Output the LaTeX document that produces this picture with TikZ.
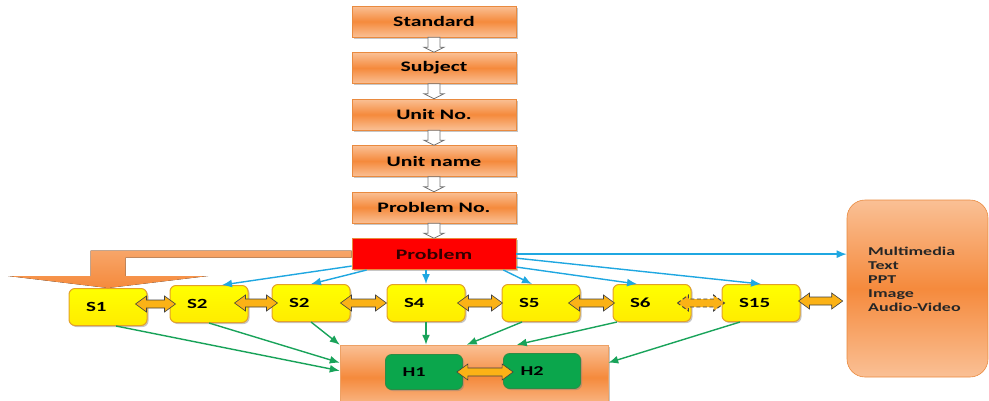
\documentclass[tikz,border=0pt]{standalone}
\usepackage{fontspec}
\setmainfont{Carlito}[FakeStretch=1.5]
\usetikzlibrary{positioning,calc,shadows,arrows.meta}

\definecolor{boxorange}{HTML}{F58A3C}
\definecolor{boxlight}{HTML}{FAC095}
\definecolor{boxedge}{HTML}{E98A3F}
\definecolor{stepfill}{HTML}{FFFF00}
\definecolor{stepedge}{HTML}{E3A128}
\definecolor{hgreen}{HTML}{0BA64C}
\definecolor{hedge}{HTML}{2E8B45}
\definecolor{cueblue}{HTML}{1FA7E1}
\definecolor{sinkgreen}{HTML}{19A35A}
\definecolor{twin}{HTML}{FBB216}

\newcommand{\tierfont}{\bfseries\fontsize{14.5}{16}\selectfont}

% hollow block arrow pointing down from #1 to #2
\newcommand{\hollowdown}[2]{%
  \draw[hollow] let \p1=(#1.south), \p2=(#2.north) in
    (\x1-6pt,\y1) -- (\x1+6pt,\y1) -- (\x1+6pt,\y2+5pt) -- (\x1+10pt,\y2+5pt)
    -- (\x1,\y2) -- (\x1-10pt,\y2+5pt) -- (\x1-6pt,\y2+5pt) -- cycle;}

% filled block arrow with two heads, from #2 to #3
\newcommand{\twoway}[3][]{%
  \draw[biarrow,#1] let \p1=(#2), \p2=(#3) in
    (\x1,\y1) -- (\x1+11pt,\y1+8pt) -- (\x1+11pt,\y1+4pt) -- (\x2-11pt,\y1+4pt)
    -- (\x2-11pt,\y1+8pt) -- (\x2,\y1) -- (\x2-11pt,\y1-8pt) -- (\x2-11pt,\y1-4pt)
    -- (\x1+11pt,\y1-4pt) -- (\x1+11pt,\y1-8pt) -- cycle;}

\tikzset{
  boxshadow/.style={drop shadow={shadow xshift=1.5pt,shadow yshift=-1.5pt,opacity=.45}},
  tierbox/.style={rectangle, draw=boxedge, line width=.5pt,
    top color=boxlight, bottom color=boxlight, middle color=boxorange,
    minimum width=164pt, minimum height=31pt, inner sep=0pt,
    font=\tierfont, boxshadow},
  alertbox/.style={rectangle, draw=boxedge, line width=.8pt, fill=red,
    minimum width=164pt, minimum height=31pt, inner sep=0pt,
    font=\tierfont, text=black!80!red, boxshadow},
  stepbox/.style={rectangle, rounded corners=6pt, draw=stepedge, line width=1pt,
    top color=stepfill, bottom color=stepfill!85!orange,
    text width=44pt, align=left, inner xsep=17pt, inner ysep=0pt,
    minimum height=37pt, font=\bfseries\fontsize{14}{16}\selectfont, boxshadow},
  hbox/.style={rectangle, rounded corners=6pt, draw=hedge, line width=.8pt,
    fill=hgreen, text width=43pt, align=left, inner xsep=17pt, inner ysep=0pt,
    minimum height=35pt, font=\bfseries\fontsize{13.5}{16}\selectfont, boxshadow},
  tray/.style={rectangle, draw=boxedge!80, line width=.5pt,
    top color=boxlight, bottom color=boxlight, middle color=boxorange,
    minimum width=268pt, minimum height=65pt, boxshadow},
  mediabox/.style={rectangle, rounded corners=18pt, draw=boxedge, line width=.6pt,
    top color=boxlight, bottom color=boxlight, middle color=boxorange,
    minimum width=141pt, minimum height=177pt},
  hollow/.style={draw=black!55, fill=white, line width=.8pt},
  biarrow/.style={draw=black!75, fill=twin, line width=.6pt},
  bigarrow/.style={top color=boxlight!50!boxorange, bottom color=boxorange},
  cue/.style={-{Latex[length=10pt,width=8pt]}, draw=cueblue, line width=1.4pt},
  sink/.style={-{Latex[length=10pt,width=8pt]}, draw=sinkgreen, line width=1.4pt},
}

\begin{document}
\begin{tikzpicture}[x=1pt, y=-1pt, node distance=15pt]
  \clip (0,0) rectangle (989,400);

  % the chain of levels down to the problem
  \node[tierbox]  (Standard) at (434,21.5)      {Standard};
  \node[tierbox]  (Subject)  [below=of Standard] {Subject};
  \node[tierbox]  (UnitNo)   [below=of Subject]  {Unit No.};
  \node[tierbox]  (UnitName) [below=of UnitNo]   {Unit name};
  \node[tierbox]  (ProbNo)   [below=of UnitName] {Problem No.};
  \node[alertbox] (Problem)  [below=of ProbNo]   {Problem};

  \foreach \a/\b in {Standard/Subject, Subject/UnitNo, UnitNo/UnitName,
                     UnitName/ProbNo, ProbNo/Problem}
    {\hollowdown{\a}{\b}}

  % steps
  \node[stepbox] (s1)  at (108,307) {S1};
  \node[stepbox] (s2)  at (209,304) {S2};
  \node[stepbox] (s3)  at (311,303) {S2};
  \node[stepbox] (s4)  at (426,303) {S4};
  \node[stepbox] (s5)  at (541,303) {S5};
  \node[stepbox] (s6)  at (652,303) {S6};
  \node[stepbox] (s15) at (761,303) {S15};

  % media on the right
  \node[mediabox] (Media) at (917.5,288.5) {};
  \node[anchor=west, align=left, text=black!85,
        font=\bfseries\fontsize{12}{14}\selectfont]
    (MediaList) at ([xshift=18pt,yshift=9pt]Media.west)
    {Multimedia\\Text\\PPT\\Image\\Audio-Video};

  % hubs at the bottom
  \node[tray] (Hbox) at (474,377.5) {};
  \node[hbox] (h1) at (424,372) {H1};
  \node[hbox] (h2) at (542,371) {H2};

  % wide arrow from the problem into S1
  \fill[bigarrow] let \p1=(Problem.west), \p2=(s1.north) in
    (\x1,\y1+3.5pt) -- (\x2-17.5pt,\y1+3.5pt) -- (\x2-17.5pt,\y2+12pt)
    -- (\x2-100pt,\y2+12pt) -- (\x2,\y2) -- (\x2+100pt,\y2+12pt)
    -- (\x2+17.5pt,\y2+12pt) -- (\x2+17.5pt,\y1-3.5pt) -- (\x1,\y1-3.5pt) -- cycle;

  % problem to steps and media
  \draw[cue] ([yshift=4pt]Problem.south west)   -- ([xshift=13pt]s2.north);
  \draw[cue] ([xshift=15pt]Problem.south west)  -- (s3.north);
  \draw[cue] (s4.north |- Problem.south)        -- (s4.north);
  \draw[cue] ([xshift=-13pt]Problem.south east) -- ([xshift=-9pt]s5.north);
  \draw[cue] ([yshift=3pt]Problem.south east)   -- ([xshift=-15pt]s6.north);
  \draw[cue] ([yshift=-4pt]Problem.east)        -- (s15.north);
  \draw[cue] (Problem.east)                     -- (Problem.east -| Media.west);

  % steps to hubs
  \draw[sink] ([xshift=8pt]s1.south)    -- ([yshift=-26pt]Hbox.north west);
  \draw[sink] (s2.south)                -- ([yshift=-18pt]Hbox.north west);
  \draw[sink] (s3.south)                -- (Hbox.north west);
  \draw[sink] (s4.south)                -- (s4.south |- Hbox.north);
  \draw[sink] ([xshift=-19pt]s5.south)  -- ([xshift=127pt]Hbox.north west);
  \draw[sink] ([xshift=-35pt]s6.south)  -- ([xshift=177pt]Hbox.north west);
  \draw[sink] ([xshift=-21pt]s15.south) -- ([yshift=-18pt]Hbox.north east);

  \twoway{[xshift=-12pt,yshift=3pt]s1.east}{[xshift=6pt]s2.west}
  \twoway{[xshift=-14pt,yshift=1pt]s2.east}{[xshift=6pt]s3.west}
  \twoway{[xshift=-10pt]s3.east}{s4.west}
  \twoway{[xshift=-8pt]s4.east}{[xshift=1pt]s5.west}
  \twoway{[xshift=-12pt]s5.east}{[xshift=2pt]s6.west}
  \twoway[dash pattern=on 4pt off 2.5pt, line width=.9pt]%
    {[xshift=-14pt]s6.east}{[xshift=3pt]s15.west}
  \twoway{[xshift=-2pt,yshift=2pt]s15.east}{[xshift=-4pt]Media.west}
  \twoway{[xshift=-6pt]h1.east}{[xshift=10pt]h2.west}
\end{tikzpicture}
\end{document}
